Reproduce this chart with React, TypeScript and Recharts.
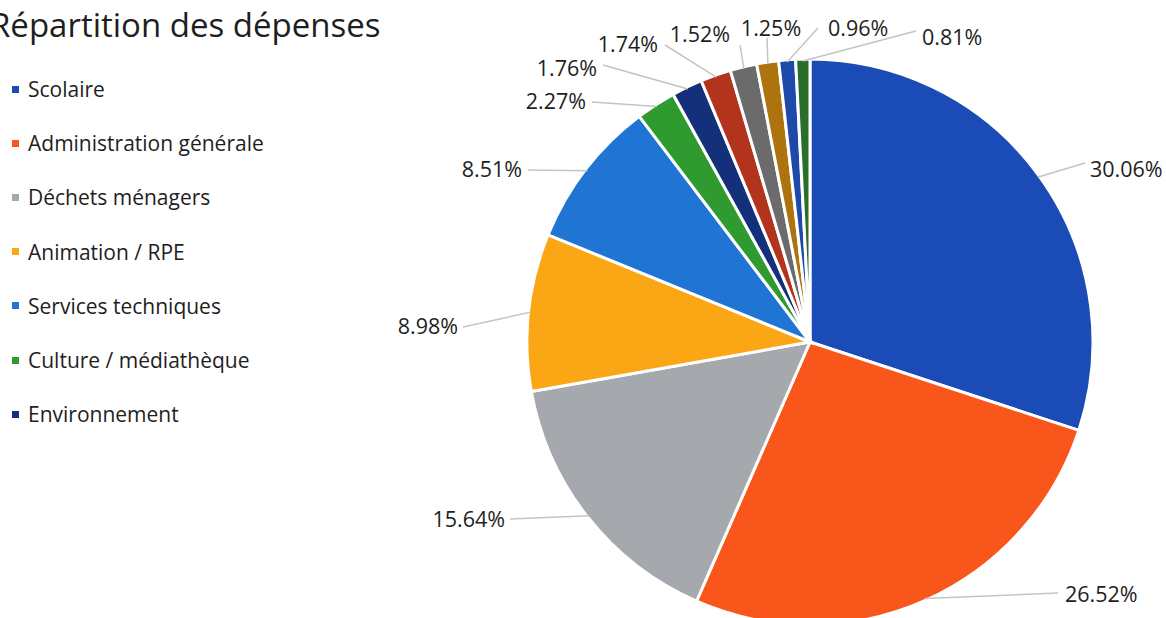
import React from 'react';
import { PieChart, Pie, Cell } from 'recharts';

const categories = [
  'Scolaire',
  'Administration générale',
  'Déchets ménagers',
  'Animation / RPE',
  'Services techniques',
  'Culture / médiathèque',
  'Environnement',
  'Autre 1',
  'Autre 2',
  'Autre 3',
  'Autre 4',
  'Autre 5',
];

const shares = [30.06, 26.52, 15.64, 8.98, 8.51, 2.27, 1.76, 1.74, 1.52, 1.25, 0.96, 0.81];

const colors = [
  '#1a4bb6', '#f8561a', '#a5a9ad', '#fba614', '#1f74d4', '#2f9a30',
  '#15307a', '#b3341c', '#6b6b6b', '#ad730e', '#1d4aa8', '#2b6e2b',
];

// only the first entries appear in the legend
const legendCount = 7;

// leader line end (lx, ly) and text anchor (tx, ty), relative to the pie centre
const labelSpots: { lx: number; ly: number; tx: number; ty: number; anchor: 'start' | 'middle' | 'end' }[] = [
  { lx: 275, ly: -179, tx: 280, ty: -172, anchor: 'start' },
  { lx: 248, ly: 251, tx: 255, ty: 253, anchor: 'start' },
  { lx: -300, ly: 177, tx: -305, ty: 178, anchor: 'end' },
  { lx: -347, ly: -15, tx: -352, ty: -15, anchor: 'end' },
  { lx: -282, ly: -172, tx: -288, ty: -172, anchor: 'end' },
  { lx: -218, ly: -240, tx: -224, ty: -240, anchor: 'end' },
  { lx: -207, ly: -277, tx: -213, ty: -273, anchor: 'end' },
  { lx: -145, ly: -297, tx: -152, ty: -297, anchor: 'end' },
  { lx: -70, ly: -297, tx: -80, ty: -307, anchor: 'end' },
  { lx: -43, ly: -304, tx: -39, ty: -313, anchor: 'middle' },
  { lx: 8, ly: -314, tx: 18, ty: -313, anchor: 'start' },
  { lx: 106, ly: -311, tx: 112, ty: -304, anchor: 'start' },
];

const data = categories.map((name, i) => ({ name, value: shares[i] }));

const FONT = '"Open Sans", "Noto Sans", sans-serif';
const RAD = Math.PI / 180;

const renderLabel = (props: any) => {
  const { cx, cy, midAngle, outerRadius, index, value } = props;
  const spot = labelSpots[index];
  const ex = cx + (outerRadius - 2) * Math.cos(-midAngle * RAD);
  const ey = cy + (outerRadius - 2) * Math.sin(-midAngle * RAD);
  return (
    <g key={`lbl-${index}`}>
      <line x1={ex} y1={ey} x2={cx + spot.lx} y2={cy + spot.ly} stroke="#c4c4c4" strokeWidth={1.5} />
      <text
        x={cx + spot.tx}
        y={cy + spot.ty + 7}
        textAnchor={spot.anchor}
        fontFamily={FONT}
        fontSize={21.5}
        fill="#1e1e1e"
      >
        {value.toFixed(2)}%
      </text>
    </g>
  );
};

export default function App() {
  return (
    <div style={{ position: 'absolute', left: 0, top: 0, width: 1166, height: 618, background: '#fff', overflow: 'hidden', fontFamily: FONT }}>
      <div style={{ position: 'absolute', left: -10, top: 2, fontSize: 33, color: '#1e1e1e', whiteSpace: 'nowrap' }}>
        Répartition des dépenses
      </div>
      <div style={{ position: 'absolute', left: 12, top: 62 }}>
        {categories.slice(0, legendCount).map((name, i) => (
          <div key={name} style={{ height: 54.2, display: 'flex', alignItems: 'center' }}>
            <span style={{ width: 7, height: 7, background: colors[i], display: 'inline-block', marginRight: 9 }} />
            <span style={{ fontSize: 21, color: '#1e1e1e', whiteSpace: 'nowrap' }}>{name}</span>
          </div>
        ))}
      </div>
      <div style={{ position: 'absolute', left: 0, top: 0 }}>
        <PieChart width={1166} height={618} margin={{ top: 0, right: 0, bottom: 0, left: 0 }}>
          <Pie
            data={data}
            dataKey="value"
            nameKey="name"
            cx={810}
            cy={342}
            outerRadius={283}
            startAngle={90}
            endAngle={-270}
            stroke="#ffffff"
            strokeWidth={3}
            label={renderLabel}
            labelLine={false}
            isAnimationActive={false}
          >
            {data.map((d, i) => (
              <Cell key={d.name} fill={colors[i]} />
            ))}
          </Pie>
        </PieChart>
      </div>
    </div>
  );
}
